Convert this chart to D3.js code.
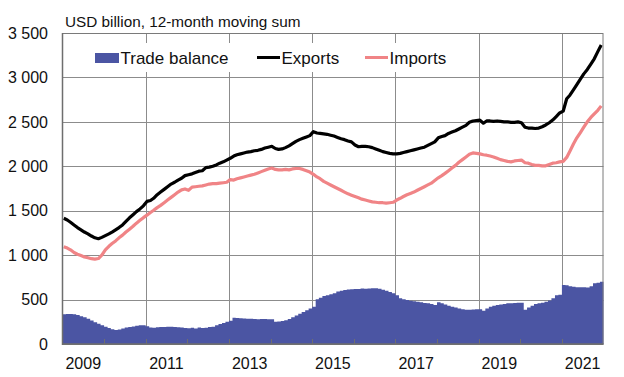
<!DOCTYPE html>
<html>
<head>
<meta charset="utf-8">
<script src="https://cdn.jsdelivr.net/npm/d3@7"></script>
<style>
  html, body { margin: 0; padding: 0; background: #fff; }
  svg { display: block; font-family: "Liberation Sans", Arial, sans-serif; }
</style>
</head>
<body>
<svg id="chart" width="624" height="377"></svg>
<script>
// ---- Data (USD billion, 12-month moving sum), monthly Jan 2009 .. Dec 2021 ----
const startYear = 2009;
const exportsData = [
  1415,1395,1370,1340,1310,1285,1260,1240,1215,1195,1185,1200,
  1220,1240,1260,1285,1310,1340,1380,1420,1455,1490,1520,1555,
  1605,1615,1640,1680,1710,1740,1770,1800,1820,1845,1865,1895,
  1905,1915,1930,1945,1950,1985,1990,2000,2015,2035,2050,2070,
  2090,2115,2130,2140,2150,2160,2165,2175,2180,2190,2205,2215,
  2225,2200,2190,2195,2210,2230,2255,2280,2300,2315,2330,2345,
  2390,2375,2370,2365,2360,2350,2340,2325,2310,2300,2285,2275,
  2240,2220,2225,2225,2220,2210,2195,2180,2165,2155,2145,2140,
  2140,2145,2155,2165,2175,2185,2195,2205,2215,2235,2255,2275,
  2320,2335,2345,2370,2385,2400,2420,2440,2460,2495,2510,2515,
  2520,2485,2510,2510,2505,2510,2505,2500,2500,2495,2495,2500,
  2490,2440,2430,2430,2425,2430,2445,2465,2490,2520,2560,2600,
  2620,2760,2800,2860,2920,2980,3040,3090,3150,3210,3290,3365
];
const importsData = [
  1095,1080,1060,1030,1010,995,980,970,960,955,962,1000,
  1060,1100,1130,1160,1195,1225,1260,1292,1325,1360,1392,1422,
  1450,1480,1505,1535,1560,1590,1620,1650,1680,1710,1735,1745,
  1730,1765,1770,1775,1780,1790,1800,1805,1805,1810,1815,1820,
  1850,1845,1860,1870,1880,1890,1900,1910,1925,1940,1955,1970,
  1980,1965,1960,1960,1965,1960,1970,1975,1975,1965,1950,1935,
  1910,1880,1860,1830,1810,1790,1770,1750,1730,1710,1690,1675,
  1660,1645,1630,1620,1610,1600,1595,1590,1590,1585,1590,1595,
  1620,1640,1660,1680,1695,1710,1730,1750,1770,1790,1810,1840,
  1870,1895,1920,1950,1980,2010,2045,2075,2105,2135,2150,2145,
  2140,2130,2125,2115,2105,2090,2075,2065,2055,2050,2060,2065,
  2070,2040,2035,2020,2010,2010,2005,2005,2020,2035,2040,2050,
  2055,2100,2170,2250,2320,2380,2440,2500,2550,2590,2630,2680
];
const balanceData = [
  335,338,338,335,325,312,300,285,265,245,228,212,
  195,180,165,158,162,175,185,192,198,205,212,210,
  200,185,182,188,190,192,195,193,190,188,185,180,
  178,182,175,185,180,182,190,195,210,225,235,250,
  262,295,292,290,288,285,283,280,278,280,280,278,
  278,250,252,258,268,280,300,320,340,360,380,400,
  420,505,520,540,550,560,570,590,600,608,612,615,
  618,620,625,622,625,628,627,622,610,598,585,570,
  550,515,505,495,488,480,476,470,462,458,450,440,
  470,460,445,430,420,412,400,390,385,385,388,390,
  392,375,400,420,430,440,445,450,458,460,462,465,
  465,385,410,430,450,458,465,475,490,515,550,555,
  664,660,650,645,640,640,638,635,650,683,690,701
];
const yTicks = [0, 500, 1000, 1500, 2000, 2500, 3000, 3500];
const yearLabels = [2009, 2011, 2013, 2015, 2017, 2019, 2021];
const gridYears = [2011, 2013, 2015, 2017, 2019, 2021];
const legendLabels = ["Trade balance", "Exports", "Imports"];
const titleText = "USD billion, 12-month moving sum";

// ---- Layout ----
const svg = d3.select("#chart");
const L = 62.5, R = 603.5, T = 33, B = 344;
const colBar = "#4b55a3", colExp = "#000000", colImp = "#f08486", colGrid = "#8c8c8c";

const x = d3.scaleTime()
  .domain([new Date(startYear, 0, 1), new Date(startYear + 13, 0, 1)])
  .range([L, R]);
const y = d3.scaleLinear().domain([0, 3500]).range([B, T]);

const monthStart = i => new Date(startYear, i, 1);
const monthMid = i => new Date(startYear, i, 12);

const locale = d3.formatLocale({ decimal: ".", thousands: "\u00a0", grouping: [3], currency: ["", ""] });
const fmt = locale.format(",d");

// Gridlines horizontal
svg.append("g").selectAll("line").data(yTicks.filter(d => d > 0 && d < 3500)).join("line")
  .attr("x1", L).attr("x2", R)
  .attr("y1", d => Math.round(y(d)) + 0.5).attr("y2", d => Math.round(y(d)) + 0.5)
  .attr("stroke", colGrid).attr("stroke-width", 1);

// Gridlines vertical (odd years)
svg.append("g").selectAll("line").data(gridYears).join("line")
  .attr("x1", d => Math.round(x(new Date(d, 0, 1))) + 0.5)
  .attr("x2", d => Math.round(x(new Date(d, 0, 1))) + 0.5)
  .attr("y1", T).attr("y2", B)
  .attr("stroke", colGrid).attr("stroke-width", 1);

// Trade balance area (stepped monthly bars)
const balPts = balanceData.map((v, i) => ({ d: monthStart(i), v }));
balPts.push({ d: monthStart(balanceData.length), v: balanceData[balanceData.length - 1] });
svg.append("path")
  .datum(balPts)
  .attr("fill", colBar)
  .attr("d", d3.area().curve(d3.curveStepAfter)
    .x(p => x(p.d)).y0(y(0)).y1(p => y(p.v)));

// Lines
const lineGen = d3.line().x((v, i) => x(monthMid(i))).y(v => y(v));
svg.append("path").datum(importsData)
  .attr("fill", "none").attr("stroke", colImp).attr("stroke-width", 3.2)
  .attr("stroke-linejoin", "round").attr("d", lineGen);
svg.append("path").datum(exportsData)
  .attr("fill", "none").attr("stroke", colExp).attr("stroke-width", 3.2)
  .attr("stroke-linejoin", "round").attr("d", lineGen);

// Legend background (covers gridlines)
svg.append("rect").attr("x", 72).attr("y", 43).attr("width", 393).attr("height", 29).attr("fill", "#fff");

// Frame
svg.append("rect").attr("x", L).attr("y", T + 0.5).attr("width", R - L - 0.5).attr("height", B - T)
  .attr("fill", "none").attr("stroke", "#7a7a7a").attr("stroke-width", 1);
svg.append("line").attr("x1", L).attr("x2", L).attr("y1", T).attr("y2", B + 1)
  .attr("stroke", "#6e6e6e").attr("stroke-width", 1.5);
svg.append("line").attr("x1", L).attr("x2", R).attr("y1", B).attr("y2", B)
  .attr("stroke", "#6e6e6e").attr("stroke-width", 1.5);

// Bottom year tick marks (inside)
const allYears = d3.range(startYear + 1, startYear + 13);
svg.append("g").selectAll("line").data(allYears).join("line")
  .attr("x1", d => Math.round(x(new Date(d, 0, 1))) + 0.5)
  .attr("x2", d => Math.round(x(new Date(d, 0, 1))) + 0.5)
  .attr("y1", B).attr("y2", B - 5)
  .attr("stroke", "#6e6e6e").attr("stroke-width", 1);

// Y axis labels
svg.append("g").selectAll("text").data(yTicks).join("text")
  .attr("x", 48).attr("y", d => y(d)).attr("dy", "0.36em")
  .attr("text-anchor", "end").attr("font-size", 16).attr("fill", "#111")
  .text(d => fmt(d));

// X axis labels (centred on mid-year)
svg.append("g").selectAll("text").data(yearLabels).join("text")
  .attr("x", d => x(new Date(d, 6, 2))).attr("y", 369)
  .attr("text-anchor", "middle").attr("font-size", 16).attr("fill", "#111")
  .text(d => d);

// Title
svg.append("text").attr("x", 65).attr("y", 27).attr("font-size", 15.3).attr("fill", "#111").text(titleText);

// Legend
const lg = svg.append("g").attr("font-size", 17).attr("fill", "#111");
lg.append("rect").attr("x", 95).attr("y", 53).attr("width", 24).attr("height", 10).attr("fill", colBar);
lg.append("text").attr("x", 120.5).attr("y", 63.5).text(legendLabels[0]);
lg.append("line").attr("x1", 257).attr("x2", 280).attr("y1", 57.5).attr("y2", 57.5)
  .attr("stroke", colExp).attr("stroke-width", 3);
lg.append("text").attr("x", 281.5).attr("y", 63.5).text(legendLabels[1]);
lg.append("line").attr("x1", 365).attr("x2", 388).attr("y1", 57.5).attr("y2", 57.5)
  .attr("stroke", colImp).attr("stroke-width", 3);
lg.append("text").attr("x", 389.5).attr("y", 63.5).text(legendLabels[2]);
</script>
</body>
</html>
